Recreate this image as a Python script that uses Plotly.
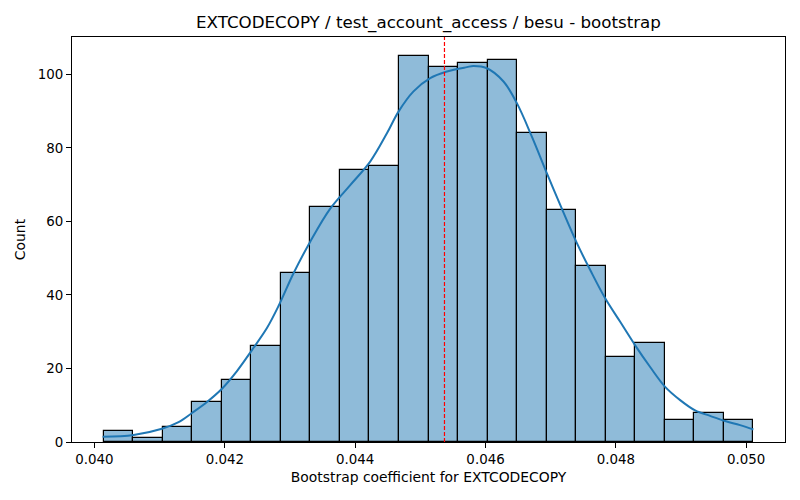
import numpy as np
import plotly.graph_objects as go

# histogram of bootstrap coefficients (22 bins)
bin_lo = 0.04014
bin_hi = 0.05011
counts = [3, 1, 4, 11, 17, 26, 46, 64, 74, 75, 105,
          102, 103, 104, 84, 63, 48, 23, 27, 6, 8, 6]

# kde curve
kde_x = [0.040124, 0.040600, 0.041035, 0.041290, 0.041496, 0.041726,
         0.041956, 0.042186, 0.042416, 0.042646, 0.042824, 0.043054,
         0.043310, 0.043617, 0.043924, 0.044230, 0.044487, 0.044665,
         0.044895, 0.045151, 0.045407, 0.045714, 0.045814, 0.046021,
         0.046276, 0.046481, 0.046711, 0.046942, 0.047146, 0.047402,
         0.047606, 0.047836, 0.048066, 0.048296, 0.048526, 0.048756,
         0.048986, 0.049216, 0.049446, 0.049676, 0.049906, 0.050110]
kde_y = [1.4, 1.9, 3.6, 5.4, 7.9, 10.9,
         14.5, 19.3, 25.0, 31.0, 37.0, 45.9,
         54.5, 63.5, 69.9, 76.3, 84.0, 89.9,
         95.4, 99.0, 100.8, 102.0, 102.3, 101.7,
         98.1, 92.2, 83.1, 73.1, 64.5, 54.1,
         46.8, 39.1, 32.7, 26.3, 20.4, 15.0,
         11.4, 8.6, 7.1, 5.7, 4.6, 3.4]

point_estimate = 0.04537

edges = np.linspace(bin_lo, bin_hi, len(counts) + 1)
width = edges[1] - edges[0]

fig = go.Figure()
fig.add_trace(go.Bar(x=edges[:-1], y=counts, width=width, offset=0,
                     marker=dict(color='rgba(31,119,180,0.5)',
                                 line=dict(color='black', width=1.2)),
                     showlegend=False))
fig.add_trace(go.Scatter(x=kde_x, y=kde_y, mode='lines',
                         line=dict(color='#1f77b4', width=2, shape='spline', smoothing=1),
                         showlegend=False))
fig.add_vline(x=point_estimate, line=dict(color='red', width=1.2, dash='4px,2px'))

font = 'DejaVu Sans'
fig.update_layout(
    width=800, height=500,
    margin=dict(l=72, r=15, t=37, b=58),
    plot_bgcolor='white', paper_bgcolor='white',
    bargap=0,
    font=dict(family=font, size=13.4, color='black'),
    title=dict(text='EXTCODECOPY / test_account_access / besu - bootstrap',
               x=0.5, xref='paper', xanchor='center',
               y=1 - 22 / 500, yanchor='middle',
               font=dict(family=font, size=16.7, color='black')),
)
fig.update_xaxes(range=[0.039655, 0.050595], tickvals=[0.040, 0.042, 0.044, 0.046, 0.048, 0.050],
                 tickformat='.3f', ticks='outside', ticklen=5, tickcolor='black',
                 showline=True, linecolor='black', linewidth=1, mirror=True,
                 showgrid=False, zeroline=False, automargin=False,
                 title=dict(text='Bootstrap coefficient for EXTCODECOPY', standoff=6,
                            font=dict(size=13.9)))
fig.update_yaxes(range=[0, 110.2], tickvals=[0, 20, 40, 60, 80, 100],
                 ticks='outside', ticklen=5, tickcolor='black',
                 showline=True, linecolor='black', linewidth=1, mirror=True,
                 showgrid=False, zeroline=False, automargin=False,
                 title=dict(text='Count', standoff=8, font=dict(size=13.9)))

fig.write_html("out.html", config={'displayModeBar': False},
               post_script="document.body.style.margin='0';")
